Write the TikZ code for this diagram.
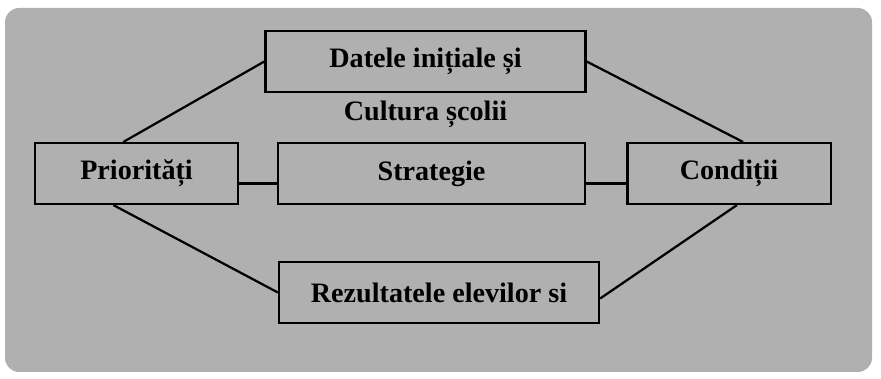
\documentclass[tikz,border=0pt]{standalone}
\usepackage{fontspec}
\setmainfont{Liberation Serif}
\usetikzlibrary{calc}

\begin{document}
\begin{tikzpicture}[x=0.025cm,y=-0.025cm,
 every node/.style={draw,line width=1.6pt,inner sep=0pt,font=\fontsize{20}{24}\selectfont\bfseries},
 wide/.style={minimum width=8cm,minimum height=1.53cm},
 side/.style={minimum width=5.08cm,minimum height=1.52cm}]
\useasboundingbox (0,0) rectangle (881,379);
\fill[black!31,rounded corners=10pt] (5,8) rectangle (872,372);
%Nodes
\path
 (425.5,61.5) node[wide] (init) {Datele inițiale și}
 (136.5,173.5) node[side] (prio) {Priorități}
 (431.5,173.5) node[minimum width=7.68cm,minimum height=1.52cm] (strat) {Strategie}
 (729,173.5) node[side] (cond) {Condiții}
 (439,292.5) node[wide] (rez) {Rezultatele elevilor si}
 ;
%Edges
\draw[-,line width=1.6pt] ([xshift=-0.33cm]prio.north) -- (init.west);
\draw[-,line width=1.6pt] (init.east) -- ([xshift=0.35cm]cond.north);
\draw[-,line width=1.6pt] ([xshift=-0.58cm]prio.south) -- (rez.west);
\draw[-,line width=1.6pt] ([yshift=-0.15cm]rez.east) -- ([xshift=0.2cm]cond.south);
\draw[-,line width=1.6pt] ([yshift=-0.25cm]prio.east) -- ([yshift=-0.25cm]strat.west);
\draw[-,line width=1.6pt] ([yshift=-0.25cm]strat.east) -- ([yshift=-0.25cm]cond.west);

% Label under the top box
\node[draw=none] (cult) at ($(init.south) + (0,-0.52cm)$) {Cultura școlii};
\end{tikzpicture}
\end{document}
